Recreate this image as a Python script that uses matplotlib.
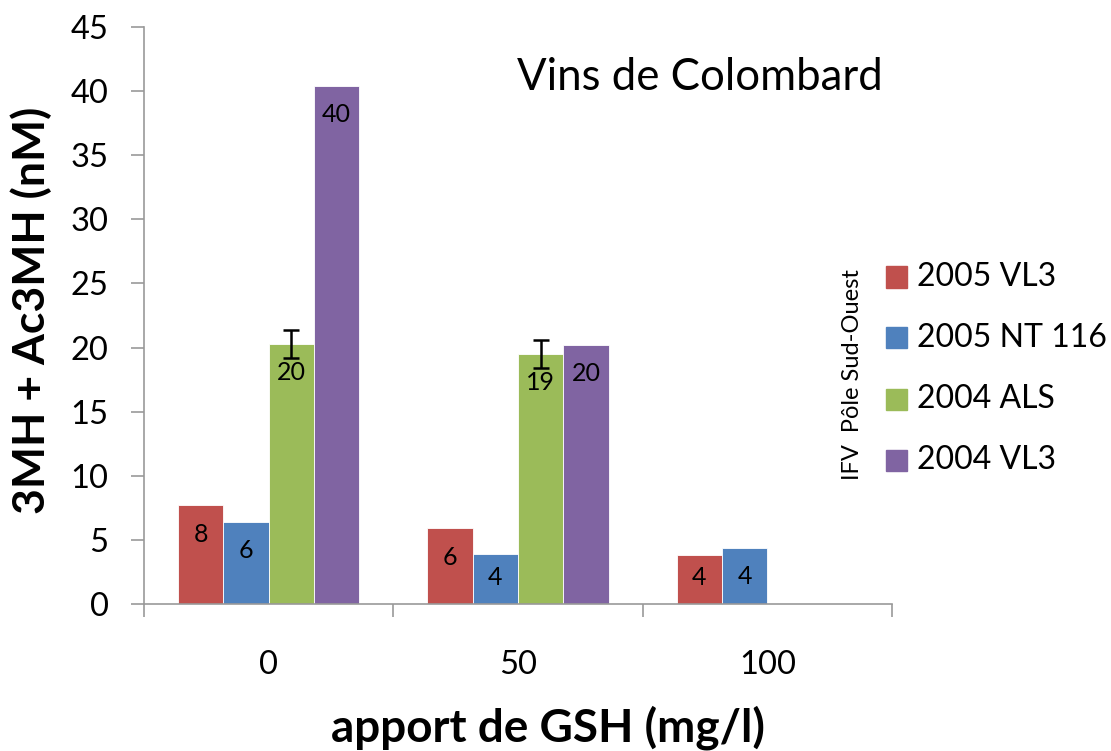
import matplotlib
matplotlib.use("Agg")
import matplotlib.pyplot as plt
import numpy as np
from matplotlib.patches import Rectangle

plt.rcParams['font.family'] = ['Lato', 'DejaVu Sans']

categories = ['0', '50', '100']
series_names = ['2005 VL3', '2005 NT 116', '2004 ALS', '2004 VL3']
values = [
    [7.7, 5.9, 3.8],
    [6.4, 3.9, 4.4],
    [20.3, 19.5, np.nan],
    [40.4, 20.2, np.nan],
]
labels = [
    ['8', '6', '4'],
    ['6', '4', '4'],
    ['20', '19', ''],
    ['40', '20', ''],
]
green_err = [1.1, 1.1, np.nan]
colors = ['#C0504D', '#4F81BD', '#9BBB59', '#8064A2']

fig = plt.figure(figsize=(11.11, 7.51), dpi=100)
ax = fig.add_axes([0.1296, 0.1957, 0.6733, 0.7683])

x = np.arange(len(categories)) + 0.5
w = 0.182
for i, (name, vals) in enumerate(zip(series_names, values)):
    pos = x + (i - 1.5) * w
    v = np.array(vals, dtype=float)
    ax.bar(pos, np.nan_to_num(v), width=w, color=colors[i], edgecolor='white',
           linewidth=0.6, label=name)
    for p, val, lab in zip(pos, v, labels[i]):
        if np.isnan(val) or not lab:
            continue
        ly = max(val - 2.25, 2.1)
        ax.text(p, ly, lab, ha='center', va='center', fontsize=18, color='black')
    if i == 2:
        ax.errorbar(pos, v, yerr=green_err, fmt='none', ecolor='black',
                    elinewidth=1.8, capsize=6, capthick=1.8)

ax.set_xlim(0, 3)
ax.set_ylim(0, 45)
ax.set_yticks(np.arange(0, 46, 5))
ax.tick_params(axis='y', labelsize=23.5, length=9.5, color='#999999', width=1.2, pad=16)
ax.set_xticks([0, 1, 2, 3])
ax.set_xticklabels([])
ax.tick_params(axis='x', length=9.5, color='#999999', width=1.2)
for i, c in enumerate(categories):
    ax.text(x[i], -4.75, c, ha='center', va='center', fontsize=23.5)

for s in ['top', 'right']:
    ax.spines[s].set_visible(False)
for s in ['left', 'bottom']:
    ax.spines[s].set_color('#999999')
    ax.spines[s].set_linewidth(1.2)

fig.text(31 / 1111, 1 - 310 / 751, '3MH + Ac3MH (nM)', rotation=90, ha='center',
         va='center', fontsize=32, fontweight='bold')
fig.text(548 / 1111, 1 - 728 / 751, 'apport de GSH (mg/l)', ha='center', va='center',
         fontsize=33, fontweight='bold')

fig.text(700 / 1111, 1 - 77 / 751, 'Vins de Colombard', ha='center', va='center',
         fontsize=31.5)

# legend
ly0 = 277
for i, name in enumerate(series_names):
    yc = ly0 + i * 61
    fig.patches.append(Rectangle((886 / 1111, 1 - (yc + 10.5) / 751), 21 / 1111, 21 / 751,
                                 transform=fig.transFigure, color=colors[i]))
    fig.text(917 / 1111, 1 - yc / 751, name, ha='left', va='center', fontsize=23)

fig.text(852 / 1111, 1 - 375 / 751, 'IFV  Pôle Sud-Ouest', rotation=90,
         ha='center', va='center', fontsize=17)

fig.savefig('out.png', dpi=100)
